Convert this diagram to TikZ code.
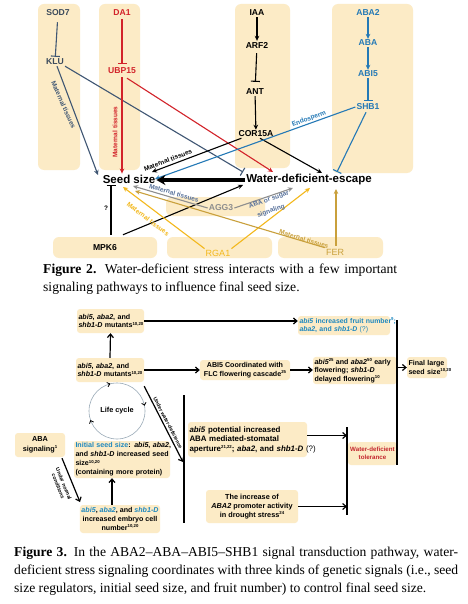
\documentclass[tikz,border=0pt]{standalone}
\usepackage{fontspec}
\setmainfont{Liberation Serif}
\setsansfont{Liberation Sans}
\usetikzlibrary{arrows.meta}
\newcommand{\supx}[1]{\raisebox{0.38em}{\fontsize{4.3}{5}\selectfont #1}}
\definecolor{boxc}{HTML}{FCEBC6}
\definecolor{slate}{HTML}{3F5673}
\definecolor{slatet}{HTML}{3C4B5C}
\definecolor{redc}{HTML}{D2232A}
\definecolor{bluec}{HTML}{2479B6}
\definecolor{grayc}{HTML}{8E8E8E}
\definecolor{labblue}{HTML}{56709A}
\definecolor{goldc}{HTML}{F3B81C}
\definecolor{ferc}{HTML}{C9A03C}
\definecolor{f3blue}{HTML}{1E88BF}
\definecolor{tolred}{HTML}{C4262E}
\definecolor{lccol}{HTML}{9AAAB8}
\tikzset{
  gl/.style={font=\sffamily\bfseries\fontsize{8.6}{10}\selectfont, inner sep=1pt},
  bigtxt/.style={font=\sffamily\bfseries\fontsize{11.5}{13}\selectfont, inner sep=1pt},
  el/.style={font=\sffamily\bfseries\fontsize{6.5}{7}\selectfont, inner sep=0.5pt},
  el3/.style={font=\sffamily\bfseries\fontsize{5.2}{6}\selectfont, inner sep=0.5pt},
  ar/.style={line width=1.1pt, -{Stealth[length=5pt,width=4.6pt]}},
  tb/.style={line width=1.1pt, -{Bar[width=9pt]}},
  bgbox/.style={fill=boxc, rounded corners=6pt},
  b3/.style={fill=boxc, rounded corners=3pt, inner sep=1.5pt, font=\sffamily\bfseries\fontsize{7.1}{8.5}\selectfont},
  a3/.style={line width=1.2pt, -{Straight Barb[length=3.5pt,width=6pt]}},
  l3/.style={line width=1.2pt},
  lct/.style={line width=0.8pt, -{Straight Barb[length=2.5pt,width=4.5pt]}},
  captxt/.style={anchor=west, inner sep=0pt, font=\fontsize{13.6}{16}\selectfont},
}
\begin{document}
\begin{tikzpicture}[x=1pt,y=-1pt]
\useasboundingbox (0,0) rectangle (467,604);
\fill[white] (0,0) rectangle (467,604);

% ---------------- Figure 2 backgrounds
\fill[bgbox] (38,4) rectangle (80,170);
\fill[bgbox] (99,4) rectangle (140,170);
\fill[bgbox] (235,4) rectangle (290,168);
\fill[bgbox] (332,4) rectangle (413,173);
\fill[bgbox] (166,197) rectangle (265,216);
\fill[bgbox] (53,237) rectangle (157,258);
\fill[bgbox] (167,237) rectangle (272,258);
\fill[bgbox] (278,237) rectangle (383,258);

% ---------------- Figure 2 nodes
\node[gl, text=slatet] (sod7) at (58,13) {SOD7};
\node[gl, text=slatet] (klu) at (55,62) {KLU};
\node[gl, text=redc] (da1) at (122,13) {DA1};
\node[gl, text=redc] (ubp) at (122,71) {UBP15};
\node[gl] (iaa) at (257,13) {IAA};
\node[gl] (arf) at (257,45) {ARF2};
\node[gl] (ant) at (255,92) {ANT};
\node[gl] (cor) at (256,134) {COR15A};
\node[gl, text=bluec] (aba2) at (368,13) {ABA2};
\node[gl, text=bluec] (aba) at (368,43) {ABA};
\node[gl, text=bluec] (abi5) at (368,74) {ABI5};
\node[gl, text=bluec] (shb1) at (368,107) {SHB1};
\node[bigtxt] (seed) at (129,179) {Seed size};
\node[bigtxt] (wde) at (309,180) {Water-deficient-escape};
\node[gl] (mpk) at (105,248) {MPK6};
\node[gl, text=grayc] (agg) at (221,208) {AGG3};
\node[gl, text=goldc, font=\sffamily\fontsize{9}{10}\selectfont] (rga) at (218,253) {RGA1};
\node[gl, text=ferc, font=\sffamily\fontsize{9}{10}\selectfont] (fer) at (335,252) {FER};

% free ends
\coordinate (e1) at (98,175);
\coordinate (e2) at (243,172);
\coordinate (e3) at (273,172);
\coordinate (e4) at (152,172);
\coordinate (e5) at (322,173);
\coordinate (e6) at (155,179);
\coordinate (e7) at (337,172);
\coordinate (e8) at (111,185);
\coordinate (e9) at (243,185);
\coordinate (e10) at (133,186);
\coordinate (e11) at (293,188);
\coordinate (e12) at (123,187);
\coordinate (e13) at (310,188);
\coordinate (e14) at (135,191);
\coordinate (e15) at (336,189);

% columns
\draw[tb, slate, shorten <=5pt, shorten >=1pt] (sod7) -- (klu);
\draw[tb, redc, shorten <=2pt, shorten >=3pt] (da1) -- (ubp);
\draw[ar] (iaa) -- (arf);
\draw[tb, shorten <=4pt, shorten >=6pt] (arf) -- (ant);
\draw[ar] (ant) -- (cor);
\draw[ar, bluec] (aba2) -- (aba);
\draw[ar, bluec] (aba) -- (abi5);
\draw[tb, bluec, shorten >=2pt] (abi5) -- (shb1);

% cross connectors
\draw[ar, slate] ([shift={(2,0)}]klu.south) -- (e1);
\draw[tb, slate] (klu.south east) -- (e2);
\draw[ar, redc] ([shift={(0,2)}]ubp.south) -- (ubp.south |- seed.north);
\draw[ar, redc] ([shift={(5,3)}]ubp.south) -- (e3);
\draw[ar] ([shift={(4,0)}]cor.south west) -- (e4);
\draw[ar] ([shift={(4,0)}]cor.south) -- (e5);
\draw[ar, bluec] (shb1.west) -- (e6);
\draw[tb, bluec] ([shift={(-2,1)}]shb1.south) -- (e7);
\draw[line width=3.2pt, -{Stealth[length=9pt,width=10pt]}] (wde.west) -- (wde.west -| seed.east);
\draw[tb] ([shift={(6,-9)}]mpk.north) -- (e8);
\draw[ar] ([shift={(18,-9)}]mpk.north) -- (e9);
\draw[ar, grayc] (agg.west) -- (e10);
\draw[ar, grayc] (agg.east) -- (e11);
\draw[ar, goldc] (rga.north west) -- (e12);
\draw[ar, goldc] (rga.north east) -- (e13);
\draw[ar, ferc] (fer.north west) -- (e14);
\draw[ar, ferc] ([shift={(1,-2)}]fer.north) -- (e15);

% connector labels
\node[el, text=slate, rotate=-66] (l1) at (63.5,105) {Maternal tissues};
\node[el, text=redc, rotate=90] (l2) at (115,132) {Maternal tissues};
\node[el, rotate=21] (l3) at (168,160) {Maternal tissues};
\node[el, text=bluec, rotate=20] (l4) at (309,119) {Endosperm};
\node[el, text=labblue, rotate=-16] (l5) at (174,193) {Maternal tissues};
\node[el, text=labblue, rotate=19] (l6) at (269,200) {ABA or sugar};
\node[el, text=labblue, rotate=19] (l7) at (271,211) {signaling};
\node[el, text=goldc, rotate=-37] (l8) at (148,219) {Maternal tissues};
\node[el, text=ferc, rotate=-17] (l9) at (304,239) {Maternal tissues};
\node[el] (q) at (106,208) {?};

% caption 2
\node[captxt] (c2a) at (43,270) {\makebox[354pt][s]{\textbf{Figure 2.} Water-deficient stress interacts with a few important}};
\node[captxt] (c2b) at (43,288) {signaling pathways to influence final seed size.};

% ---------------- Figure 3
\node[b3, minimum width=67pt, minimum height=24pt, text width=64pt, align=left] (a1) at (110.5,321) {\mbox{\textit{abi5}, \textit{aba2}, and}\\\mbox{\textit{shb1-D} mutants\supx{10,20}}};
\node[b3, minimum width=68pt, minimum height=24pt, text width=65pt, align=left] (a2) at (110,370) {\mbox{\textit{abi5}, \textit{aba2}, and}\\\mbox{\textit{shb1-D} mutants\supx{10,20}}};
\node[b3, text=f3blue, font=\sffamily\bfseries\fontsize{6.9}{8.6}\selectfont, minimum width=92pt, minimum height=19pt, text width=89pt, align=left] (b1) at (344,325.5) {\mbox{\textit{abi5} increased fruit number\supx{9};}\\\mbox{\textit{aba2}, and \textit{shb1-D} {\mdseries(?)}}};
\node[b3, minimum width=90pt, minimum height=20pt, align=center] (c) at (245,370) {ABI5 Coordinated with\\FLC flowering cascade\supx{25}};
\node[b3, minimum width=84pt, minimum height=25pt, text width=81pt, align=left] (d) at (355,370.5) {\mbox{\textit{abi5}\supx{25} and \textit{aba2}\supx{50} early}\\\mbox{flowering; \textit{shb1-D}}\\\mbox{delayed flowering\supx{10}}};
\node[b3, minimum width=40pt, minimum height=21pt, text width=37pt, align=left] (fin) at (427,367.5) {\mbox{Final large}\\\mbox{seed size\supx{10,20}}};
\node[b3, font=\sffamily\bfseries\fontsize{7.9}{9.5}\selectfont, minimum width=119pt, minimum height=35pt, text width=116pt, align=left] (e) at (247.5,439.5) {\mbox{\textit{abi5} potential increased}\\\mbox{ABA mediated-stomatal}\\\mbox{aperture\supx{21,22}; \textit{aba2}, and \textit{shb1-D} {\mdseries(?)}}};
\node[b3, text=tolred, font=\sffamily\bfseries\fontsize{6.2}{7.6}\selectfont, minimum width=49pt, minimum height=23pt, align=center] (tol) at (372.5,453.5) {Water-deficient\\tolerance};
\node[b3, font=\sffamily\bfseries\fontsize{7.3}{9}\selectfont, minimum width=92pt, minimum height=33pt, align=center] (f) at (252,506.5) {The increase of\\\textit{ABA2} promoter activity\\in drought stress\supx{24}};
\node[b3, font=\sffamily\bfseries\fontsize{7.3}{10}\selectfont, minimum width=50pt, minimum height=24pt, align=center] (abas) at (40,445) {ABA\\signaling\supx{1}};
\node[b3, font=\sffamily\bfseries\fontsize{7.1}{9}\selectfont, minimum width=96pt, minimum height=37pt, text width=93pt, align=left] (gbox) at (122,459.5) {\mbox{\textcolor{f3blue}{Initial seed size}: \textit{abi5}, \textit{aba2},}\\\mbox{and \textit{shb1-D} increased seed}\\\mbox{size\supx{10,20}}\\\mbox{(containing more protein)}};
\node[b3, font=\sffamily\bfseries\fontsize{7.1}{9}\selectfont, minimum width=80pt, minimum height=28pt, align=center] (h) at (120,519) {\textcolor{f3blue}{\textit{abi5}}, \textcolor{f3blue}{\textit{aba2}}, and \textcolor{f3blue}{\textit{shb1-D}}\\increased embryo cell\\number\supx{10,20}};

% life cycle
\node[font=\sffamily\bfseries\fontsize{7.3}{9}\selectfont] (lc) at (117,411) {Life cycle};
\draw[lccol, line width=0.6pt] (lc.center) circle (28);
\draw[lct] ([shift={(253:28)}]lc.center) -- ++(343:1.6);
\draw[lct] ([shift={(346:28)}]lc.center) -- ++(76:1.6);
\draw[lct] ([shift={(158:28)}]lc.center) -- ++(248:1.6);

% fig 3 lines
\coordinate (v1t) at (397,320);
\coordinate (v1b) at (397,465);
\coordinate (v2t) at (347,427);
\coordinate (v2b) at (347,515);
\coordinate (v3t) at (184,395);
\coordinate (v3b) at (184,523);
\coordinate (uwe) at (183,462);
\coordinate (hn) at (80,502);
\coordinate (hx) at (112,0);
\draw[l3] (v1t) -- (v1b);
\draw[l3] (v2t) -- (v2b);
\draw[l3] (v3t) -- (v3b);
\draw[a3] (a1.east) -- (a1.east -| b1.west);
\draw[a3] (a2.north) -- (a1.south);
\draw[a3] (a2.east) -- (a2.east -| c.west);
\draw[a3] (c.east) -- (c.east -| d.west);
\draw[a3] (fin.west -| v1t) -- (fin.west);
\draw[a3] ([shift={(0,4)}]a2.south east) -- (uwe);
\draw[a3] ([shift={(0,-4)}]e.east) -- ([shift={(0,-4)}]e.east -| v2t);
\draw[a3] (f.east) -- (f.east -| v2t);
\draw[a3] ([shift={(22,1)}]abas.south) -- (hn);
\draw[a3] (h.north -| hx) -- (gbox.south -| hx);
\node[el3, rotate=-62.5] (uwl) at (168,423) {Under water-deficience};
\node[el3, rotate=-67.7, align=center] (unl) at (61,485) {Under normal\\conditions};

% caption 3
\node[captxt] (c3a) at (14,553) {\makebox[444pt][s]{\textbf{Figure 3.} In the ABA2–ABA–ABI5–SHB1 signal transduction pathway, water-}};
\node[captxt] (c3b) at (14,571) {\makebox[444pt][s]{deficient stress signaling coordinates with three kinds of genetic signals (i.e., seed}};
\node[captxt] (c3c) at (14,589) {size regulators, initial seed size, and fruit number) to control final seed size.};
\end{tikzpicture}
\end{document}
